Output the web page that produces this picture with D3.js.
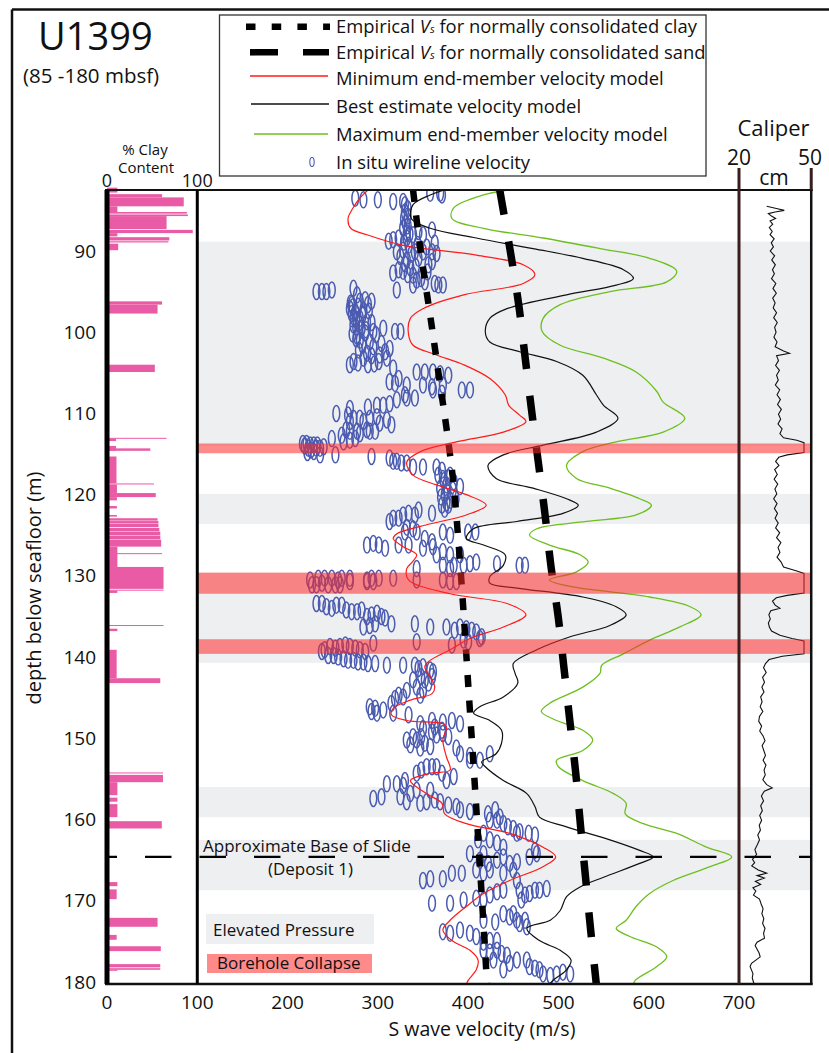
<!DOCTYPE html>
<html>
<head>
<meta charset="utf-8">
<script src="https://cdn.jsdelivr.net/npm/d3@7"></script>
<style>
body { margin: 0; background: #fff; }
svg text { font-family: "Open Sans", sans-serif; fill: #111; }
</style>
</head>
<body>
<svg id="chart" width="829" height="1053"></svg>
<script>
// ---- data (depth in mbsf, velocity in m/s, clay in %, caliper in cm) ----
var depthTicks = [90, 100, 110, 120, 130, 140, 150, 160, 170, 180]
var velocityTicks = [0, 100, 200, 300, 400, 500, 600, 700]

var elevatedPressure = [[88.85, 114.0], [119.9, 123.6], [129.6, 140.7], [156.0, 159.7], [162.5, 168.7]]
var boreholeCollapse = [[113.7, 114.9], [129.6, 132.2], [137.8, 139.6]]
var slideBase = 164.6

// [top depth, bottom depth, % clay]
var clayContent = [
    [82.2, 82.8, 11.5], [83.0, 83.4, 61], [83.4, 84.5, 85], [84.5, 85.2, 11.5], [85.2, 85.4, 88.5],
    [85.5, 85.7, 89.6], [85.7, 87.3, 66], [87.4, 87.8, 95], [87.8, 88.2, 11.5], [88.3, 88.7, 69],
    [88.8, 88.95, 68], [89.1, 89.9, 12.4], [96.2, 96.6, 61], [96.6, 97.7, 56], [104.0, 104.9, 53],
    [113.0, 113.08, 66], [113.1, 113.4, 10], [114.0, 114.6, 10], [114.3, 114.6, 48], [115.3, 118.6, 10.5],
    [118.62, 118.72, 52], [118.75, 119.8, 11], [119.8, 120.3, 54], [120.3, 120.7, 11], [121.4, 121.7, 11],
    [122.5, 122.7, 11], [122.9, 123.2, 56], [123.25, 123.55, 57], [123.6, 124.0, 57], [124.1, 124.5, 58],
    [124.55, 125.0, 59], [125.05, 125.5, 59], [125.55, 126.4, 60], [126.4, 128.9, 11.5], [127.2, 127.28, 61],
    [128.9, 131.6, 62.6], [131.7, 131.8, 62.6], [131.8, 132.1, 11.5], [136.05, 136.15, 62.6], [136.5, 136.8, 11.5],
    [139.1, 142.6, 10.7], [142.6, 143.2, 59], [154.2, 154.3, 62], [154.5, 155.4, 62], [155.4, 157.0, 11.5],
    [157.3, 157.8, 11.5], [158.1, 159.7, 11.5], [160.2, 161.1, 60.7], [167.7, 168.2, 11.5], [168.6, 169.8, 10.7],
    [172.1, 173.2, 56], [174.2, 174.8, 10.7], [175.6, 176.2, 59.6], [177.8, 178.2, 59], [178.3, 178.5, 59],
    [178.5, 178.6, 11.5]
]

// [depth, velocity]
var clayEmpirical = [[82.5, 339], [89.7, 347], [99.1, 359.5], [105.7, 368], [111.8, 376], [118.4, 383.5],
    [125.4, 389], [134.6, 395], [144.1, 400.5], [156.8, 408], [167.5, 414], [180.3, 421]]
var sandEmpirical = [[82.5, 435], [90.5, 447.4], [96.6, 456], [103, 463], [109.4, 470], [115.9, 477.6],
    [122.3, 485], [128.7, 491.6], [135, 499.7], [141.2, 506], [147.8, 512.6], [154.1, 519], [160.7, 524.4],
    [167.1, 530], [173.4, 535.5], [180.3, 542]]

var minModel = [[82.4, 290], [83.5, 280], [84.8, 272], [86.0, 267], [87.2, 270], [88.0, 288], [89.3, 328],
    [90.5, 409], [91.7, 461], [92.9, 474], [94.0, 461], [95.4, 395], [97.1, 350], [98.3, 336], [100.3, 334],
    [101.6, 339], [102.8, 365], [104.0, 395], [105.7, 424], [107.7, 441], [109.0, 445], [110.2, 457],
    [111.0, 464], [112.3, 439], [113.5, 387], [114.7, 347], [116.0, 332], [117.6, 339], [118.8, 365],
    [120.0, 398], [121.3, 420], [122.5, 398], [123.7, 354], [124.8, 321], [125.4, 317], [126.4, 328],
    [127.4, 343], [128.3, 338], [129.1, 332], [130.5, 334], [132.2, 380], [133.4, 443], [134.8, 464],
    [136.3, 439], [137.7, 402], [139.1, 380], [140.4, 358], [141.2, 352], [142.8, 360], [143.7, 363],
    [144.5, 360], [145.3, 336], [146.3, 317], [147.1, 315], [147.8, 332], [148.2, 372], [148.6, 376],
    [150.2, 372], [152.3, 376], [153.9, 380], [154.3, 358], [155.2, 336], [156.8, 354], [158.0, 371],
    [159.3, 374], [160.5, 398], [161.7, 446], [163.4, 483], [164.6, 497], [165.8, 483], [167.5, 446],
    [169.1, 417], [170.7, 398], [172.4, 380], [173.6, 372], [174.9, 382], [176.1, 402], [177.3, 411],
    [178.5, 409], [179.8, 400], [180.3, 398]]

var bestModel = [[82.4, 376], [83.1, 358], [84.3, 339], [86.0, 337], [87.2, 358], [88.4, 409], [89.7, 472],
    [90.9, 527], [92.3, 572], [93.4, 583], [94.2, 564], [95.4, 509], [97.1, 443], [98.3, 424], [99.9, 419],
    [101.2, 424], [102.4, 457], [103.6, 498], [105.3, 527], [107.7, 542], [109.0, 550], [110.6, 566],
    [112.3, 542], [113.9, 483], [115.1, 439], [116.4, 422], [118.0, 431], [119.2, 472], [120.5, 509],
    [121.3, 522], [122.3, 505], [123.3, 454], [124.2, 406], [125.4, 398], [126.2, 417], [127.4, 441],
    [128.7, 439], [130.1, 424], [130.9, 424], [131.5, 454], [132.6, 527], [133.8, 564], [134.8, 575],
    [136.1, 557], [137.5, 513], [139.1, 476], [140.8, 450], [142.0, 452], [143.2, 455], [144.9, 439],
    [146.1, 413], [146.9, 406], [147.8, 424], [149.0, 437], [150.6, 437], [151.9, 431], [152.9, 415],
    [153.5, 419], [155.2, 439], [156.8, 465], [158.4, 474], [159.7, 479], [160.9, 509], [162.5, 557],
    [163.8, 590], [164.6, 605], [165.4, 590], [167.1, 550], [168.3, 524], [169.5, 509], [171.2, 502],
    [172.4, 491], [173.4, 465], [174.9, 479], [176.1, 502], [177.3, 514], [178.5, 509], [179.8, 494], [180.3, 490]]

var maxModel = [[82.4, 450], [83.1, 417], [84.7, 384], [86.0, 382], [87.2, 417], [88.4, 483], [89.7, 546],
    [90.9, 601], [92.5, 631], [93.8, 620], [95.0, 557], [96.6, 502], [98.3, 483], [99.9, 482], [101.6, 502],
    [103.2, 550], [104.9, 586], [107.3, 609], [108.6, 616], [110.6, 640], [112.3, 616], [113.5, 564],
    [114.7, 527], [116.4, 509], [118.0, 520], [119.2, 557], [120.5, 590], [121.3, 603], [122.5, 586],
    [123.3, 531], [124.2, 476], [125.0, 468], [126.2, 490], [127.4, 524], [128.3, 533], [129.5, 520],
    [130.5, 490], [131.3, 513], [132.6, 601], [133.8, 646], [134.8, 658], [136.3, 634], [137.9, 601],
    [139.6, 572], [141.0, 548], [142.0, 546], [143.7, 527], [145.7, 490], [146.7, 481], [147.8, 498],
    [149.0, 527], [150.2, 538], [151.5, 527], [152.7, 498], [153.5, 500], [155.2, 527], [156.8, 561],
    [158.0, 575], [159.3, 574], [160.5, 594], [161.7, 631], [163.4, 664], [164.6, 692], [165.8, 668],
    [167.5, 627], [169.1, 601], [170.7, 586], [172.4, 575], [173.4, 564], [174.4, 579], [175.7, 609],
    [176.9, 620], [178.1, 609], [179.8, 585], [180.3, 583]]

var wireline = [
    [83.5, 275], [83.7, 284], [83.7, 300], [83.9, 317], [83.9, 328], [82.9, 358], [82.9, 369], [83.1, 371],
    [84.3, 330], [85.2, 330], [86.0, 329], [86.6, 331], [87.2, 328], [87.8, 332], [88.8, 312], [88.6, 317],
    [88.4, 323], [88.4, 332], [88.0, 339], [87.6, 345], [88.0, 350], [87.4, 360], [89.0, 363], [89.5, 354],
    [90.1, 321], [89.9, 328], [90.1, 341], [90.1, 350], [90.1, 360], [90.3, 365], [91.1, 332], [90.9, 345],
    [91.3, 360], [92.7, 317], [92.3, 323], [92.5, 328], [92.1, 336], [93.0, 339], [93.6, 343], [93.8, 352],
    [94.0, 363], [94.2, 372], [94.2, 367], [94.8, 321], [94.2, 339], [95.0, 232], [95.0, 238], [95.0, 243],
    [94.8, 249], [94.6, 273], [95.4, 277], [96.6, 271], [97.1, 269], [97.5, 275], [96.2, 280], [96.0, 286],
    [97.3, 284], [96.6, 289], [96.2, 293], [98.1, 273], [98.3, 280], [98.7, 288], [99.1, 273], [99.5, 282],
    [100.5, 277], [101.0, 280], [100.1, 286], [99.9, 295], [99.5, 306], [99.9, 319], [99.9, 325], [101.2, 291],
    [101.4, 304], [104.0, 269], [103.6, 273], [103.8, 278], [103.2, 284], [104.0, 289], [102.8, 302], [102.4, 308],
    [103.2, 310], [103.6, 301], [102.0, 313], [104.4, 317], [106.1, 313], [106.3, 319], [105.7, 323], [106.5, 332],
    [104.9, 343], [104.9, 352], [104.9, 361], [105.1, 369], [105.3, 378], [106.5, 350], [106.7, 360], [106.5, 372],
    [107.1, 393], [107.1, 402], [107.1, 361], [107.5, 371], [108.1, 341], [108.1, 332], [108.3, 321], [108.8, 313],
    [109.0, 306], [109.0, 299], [109.2, 289], [107.7, 330], [110.0, 254], [109.4, 269], [110.2, 267], [110.6, 273],
    [111.0, 269], [110.6, 280], [111.0, 284], [110.6, 291], [110.4, 299], [111.2, 302], [110.8, 310], [111.4, 315],
    [113.1, 249], [112.7, 260], [112.0, 265], [112.2, 269], [112.2, 277], [113.1, 275], [112.5, 280], [112.0, 288],
    [112.2, 291], [112.2, 297], [113.3, 269], [113.5, 262], [113.7, 217], [113.7, 221], [113.9, 225], [113.9, 229],
    [114.3, 232], [114.3, 223], [114.7, 229], [115.1, 236], [115.1, 253], [115.3, 293], [114.3, 236], [115.5, 313],
    [115.9, 317], [115.9, 321], [116.1, 326], [116.1, 332], [116.6, 339], [116.6, 350], [116.6, 365], [117.0, 371],
    [117.6, 367], [118.0, 372], [117.6, 380], [118.8, 376], [119.2, 369], [120.0, 374], [120.7, 380], [121.3, 371],
    [121.3, 378], [119.0, 391], [118.4, 384], [123.3, 313], [122.9, 317], [122.9, 323], [122.5, 328], [122.3, 334],
    [122.5, 341], [121.9, 345], [122.3, 360], [124.0, 332], [124.2, 339], [124.6, 343], [124.6, 330], [124.6, 372],
    [125.0, 380], [124.6, 400], [124.6, 408], [126.2, 288], [126.0, 295], [126.2, 301], [126.6, 308], [126.2, 323],
    [126.2, 334], [125.4, 352], [125.8, 360], [126.6, 350], [126.4, 361], [127.4, 365], [127.0, 372], [127.4, 380],
    [127.4, 391], [128.7, 372], [128.7, 384], [128.7, 395], [128.5, 402], [128.3, 409], [128.5, 432], [128.7, 457],
    [128.7, 463], [129.1, 343], [129.1, 380], [130.5, 225], [130.3, 234], [130.3, 241], [130.3, 249], [130.5, 256],
    [130.3, 260], [130.3, 269], [130.5, 288], [130.3, 293], [130.3, 301], [130.3, 317], [130.5, 343], [130.5, 372],
    [130.7, 380], [130.7, 387],
    // denser clusters
    [96.4, 270], [96.9, 272], [97.7, 271], [98.4, 276], [96.8, 278], [97.9, 283], [98.9, 279], [97.4, 290],
    [99.4, 276], [100.2, 272], [100.8, 276], [101.6, 283], [102.2, 279], [99.7, 287], [98.8, 293], [102.6, 288],
    [101.8, 295], [100.3, 298], [102.9, 293], [103.9, 296], [90.7, 325], [91.6, 330], [92.9, 333], [91.9, 342],
    [90.4, 337], [89.2, 344], [93.4, 348], [92.6, 355], [91.7, 356], [89.3, 334], [88.9, 329], [87.9, 335],
    [86.9, 333], [85.7, 333], [84.8, 333], [118.3, 373], [119.6, 377], [120.3, 370], [121.0, 376], [119.4, 383],
    [120.5, 386], [117.9, 378], [121.8, 374], [114.0, 219], [114.5, 226], [113.9, 233], [114.8, 222], [114.1, 240],
    [131.1, 227], [131.1, 232], [130.9, 238], [131.1, 245], [131.1, 253], [131.1, 258], [130.7, 269], [130.7, 288],
    [130.7, 295], [133.4, 232], [133.4, 238], [133.8, 243], [134.0, 249], [133.6, 254], [133.6, 260], [134.2, 265],
    [134.4, 271], [134.4, 277], [134.2, 282], [135.0, 288], [134.8, 293], [134.6, 299], [135.0, 304], [135.2, 308],
    [135.9, 315], [136.3, 284], [136.1, 291], [135.9, 297], [135.9, 341], [136.3, 358], [136.3, 376], [136.7, 385],
    [136.3, 391], [136.5, 398], [136.7, 404], [136.9, 409], [137.5, 415], [138.1, 343], [139.3, 238], [139.1, 241],
    [138.7, 247], [138.9, 253], [138.7, 258], [138.5, 264], [138.7, 269], [138.9, 275], [139.1, 280], [139.3, 286],
    [138.3, 295], [138.5, 382], [137.9, 395], [138.1, 400], [137.7, 413], [139.8, 245], [139.8, 251], [140.0, 256],
    [140.2, 262], [140.4, 267], [140.4, 273], [140.6, 278], [140.6, 284], [140.8, 289], [140.8, 297], [141.0, 310],
    [141.0, 328], [141.0, 341], [141.4, 345], [141.2, 350], [141.6, 358], [141.8, 361], [142.8, 339], [143.7, 343],
    [142.4, 348], [142.8, 352], [143.2, 356], [142.4, 360], [144.1, 350], [144.7, 347], [146.1, 291], [146.7, 293],
    [146.3, 297], [146.9, 299], [146.5, 306], [145.7, 315], [145.1, 319], [144.7, 323], [144.9, 328], [144.1, 332],
    [146.9, 317], [147.1, 334], [148.2, 347], [147.8, 360], [148.0, 372], [147.8, 382], [148.2, 391], [148.8, 350],
    [148.6, 363], [149.0, 371], [150.2, 332], [150.8, 336], [149.8, 339], [150.2, 343], [149.8, 348], [150.6, 352],
    [149.2, 360], [149.6, 365], [149.4, 372], [149.8, 378], [151.2, 347], [151.0, 358], [151.2, 387], [151.9, 391],
    [152.1, 402], [151.9, 424], [152.7, 402], [152.7, 413], [155.6, 310], [155.6, 321], [155.8, 328], [155.2, 330],
    [154.3, 343], [153.9, 348], [153.5, 354], [153.5, 360], [153.5, 365], [154.3, 371], [155.2, 376], [154.7, 384],
    [156.8, 336], [156.4, 343], [156.4, 358], [157.4, 295], [157.2, 304], [157.2, 325], [157.8, 332], [158.0, 347],
    [157.8, 354], [157.6, 363], [157.8, 369], [158.2, 378], [158.4, 387], [158.8, 391], [159.0, 402], [159.3, 422],
    [158.8, 430], [159.7, 435], [160.1, 424], [160.1, 432], [160.5, 439], [160.9, 444], [161.1, 450], [161.7, 454],
    [161.5, 457], [161.7, 417], [162.5, 424], [162.9, 432], [163.4, 439], [161.7, 467], [161.9, 474], [162.5, 411],
    [164.2, 402], [165.0, 413], [164.2, 417], [165.4, 422], [165.0, 432], [164.6, 439], [165.4, 446], [165.2, 454],
    [164.6, 468], [164.2, 476], [163.8, 474], [166.2, 409], [166.6, 417], [166.2, 424], [166.6, 439], [166.2, 450],
    [167.5, 350], [167.3, 358], [167.3, 372], [166.6, 382], [166.6, 393], [167.5, 454], [170.3, 360], [170.3, 380],
    [169.9, 395], [169.7, 409], [169.9, 417], [169.3, 424], [168.9, 432], [168.7, 439], [168.7, 457], [169.3, 463],
    [169.1, 468], [168.7, 474], [168.7, 479], [168.5, 487], [169.9, 459], [171.6, 439], [172.0, 446], [171.6, 450],
    [172.4, 454], [172.8, 457], [172.4, 463], [173.2, 465], [172.6, 430], [172.4, 417], [173.8, 372], [174.0, 380],
    [173.6, 391], [174.0, 402], [174.4, 409], [175.1, 417], [174.9, 424], [174.9, 432], [176.1, 417], [176.3, 424],
    [176.1, 432], [176.5, 437], [176.7, 443], [177.3, 454], [177.3, 465], [178.1, 468], [178.3, 474], [178.5, 479],
    [179.0, 483], [179.0, 498], [178.8, 505], [179.0, 513], [179.2, 491], [178.5, 439], [177.7, 446], [177.3, 428]
]

// [depth, caliper cm]
var caliper = [[84.5, 31.5], [84.8, 36], [85.0, 38.8], [85.2, 35], [85.4, 32.2], [85.7, 33.5], [86.0, 35.2],
    [86.3, 32.9], [86.7, 34.0], [87.1, 32.6], [87.6, 33.8], [88.0, 32.9], [88.5, 34.6], [89.0, 33.4], [89.5, 34.3],
    [90.0, 33.0], [90.6, 34.8], [91.1, 33.6], [91.7, 35.1], [92.3, 33.9], [92.8, 34.7], [93.4, 33.5], [94.0, 35.3],
    [94.6, 34.1], [95.2, 35.5], [95.8, 34.0], [96.4, 35.0], [97.0, 34.2], [97.6, 35.6], [98.2, 34.4], [98.8, 35.9],
    [99.4, 34.8], [100.0, 35.4], [100.6, 34.5], [101.2, 35.8], [101.8, 35.0], [102.3, 38.5], [102.6, 41.0],
    [102.9, 35.6], [103.5, 36.4], [104.1, 35.2], [104.7, 36.8], [105.3, 35.6], [105.9, 36.3], [106.5, 35.1],
    [107.1, 36.9], [107.7, 35.8], [108.3, 37.2], [108.9, 36.0], [109.5, 37.6], [110.1, 36.4], [110.7, 37.3],
    [111.3, 36.2], [111.9, 37.9], [112.5, 37.0], [113.0, 38.5], [113.3, 44.0], [113.6, 47.0], [114.8, 47.0],
    [115.1, 40.0], [115.4, 36.5], [115.9, 35.2], [116.4, 36.6], [116.9, 34.8], [117.5, 35.9], [118.1, 34.6],
    [118.7, 36.1], [119.3, 34.9], [119.9, 35.7], [120.5, 34.4], [121.1, 35.8], [121.7, 34.7], [122.3, 36.0],
    [122.9, 35.0], [123.5, 36.3], [124.1, 35.2], [124.7, 36.9], [125.3, 35.6], [125.9, 37.4], [126.5, 36.2],
    [127.1, 37.0], [127.7, 35.8], [128.3, 37.5], [128.9, 38.5], [129.4, 44.0], [129.7, 47.0], [132.1, 47.0],
    [132.4, 40.0], [132.7, 35.5], [133.1, 33.9], [133.6, 35.0], [134.0, 37.0], [134.3, 33.2], [134.8, 32.4],
    [135.3, 33.0], [135.8, 32.2], [136.3, 32.6], [136.8, 33.5], [137.3, 37.0], [137.7, 42.0], [138.0, 47.0],
    [139.6, 47.0], [139.9, 38.0], [140.3, 32.5], [140.8, 31.0], [141.3, 30.2], [141.9, 31.3], [142.5, 29.8],
    [143.1, 30.6], [143.7, 29.5], [144.3, 30.4], [144.9, 29.0], [145.5, 29.6], [146.1, 28.8], [146.7, 29.9],
    [147.3, 28.5], [147.9, 28.2], [148.5, 29.4], [149.1, 28.6], [149.7, 30.0], [150.3, 30.8], [150.9, 29.6],
    [151.5, 30.3], [152.1, 31.0], [152.7, 30.0], [153.3, 31.2], [153.9, 30.4], [154.5, 30.9], [155.1, 29.9],
    [155.7, 31.5], [156.1, 33.8], [156.5, 30.5], [157.1, 29.3], [157.7, 30.2], [158.3, 29.0], [158.9, 29.7],
    [159.5, 28.6], [160.1, 29.4], [160.7, 28.4], [161.3, 28.9], [161.9, 27.8], [162.5, 28.5], [163.1, 27.6],
    [163.7, 26.6], [164.3, 27.3], [164.9, 25.6], [165.3, 26.5], [165.7, 25.3], [166.2, 28.0], [166.6, 31.5],
    [166.9, 27.5], [167.2, 30.5], [167.6, 26.8], [168.0, 29.0], [168.4, 25.8], [168.8, 27.0], [169.3, 26.0],
    [169.8, 28.5], [170.4, 29.2], [171.0, 30.0], [171.6, 29.5], [172.2, 30.3], [172.8, 29.8], [173.4, 30.8],
    [174.0, 30.2], [174.6, 30.6], [175.1, 27.5], [175.5, 26.7], [175.9, 27.4], [176.4, 28.3], [176.9, 28.8],
    [177.3, 27.0], [177.7, 25.2], [178.1, 24.6], [178.6, 25.3], [179.0, 25.8], [179.5, 25.5], [180.0, 26.0],
    [180.2, 26.2]]

// ---- drawing ----
var svg = d3.select('#chart')
var x = d3.scaleLinear().domain([0, 700]).range([107, 739])
var y = d3.scaleLinear().domain([90, 180]).range([251, 982])
var xc = d3.scaleLinear().domain([20, 50]).range([x(700), x(780)])

var plotTop = y(82.5), plotBottom = y(180.25), plotRight = x(780)

svg.append('defs').append('clipPath').attr('id', 'plot-clip')
  .append('rect')
    .attr('x', x(0)).attr('y', plotTop)
    .attr('width', plotRight - x(0)).attr('height', plotBottom - plotTop)

// outer frame
svg.append('line').attr('x1', 12).attr('x2', 829).attr('y1', 9.5).attr('y2', 9.5)
    .attr('stroke', '#111').attr('stroke-width', 2.5)
svg.append('line').attr('x1', 12).attr('x2', 12).attr('y1', 9.5).attr('y2', 1053)
    .attr('stroke', '#111').attr('stroke-width', 2.5)

// elevated pressure bands
svg.append('g').selectAll('rect').data(elevatedPressure).join('rect')
    .attr('x', x(100)).attr('width', plotRight - x(100))
    .attr('y', d => y(d[0])).attr('height', d => y(d[1]) - y(d[0]))
    .attr('fill', '#eeeff1')

// clay content bars
svg.append('g').selectAll('rect').data(clayContent).join('rect')
    .attr('x', x(0)).attr('width', d => x(d[2]) - x(0))
    .attr('y', d => y(d[0])).attr('height', d => Math.max(1, y(d[1]) - y(d[0])))
    .attr('fill', '#ea5ba6')

var plot = svg.append('g').attr('clip-path', 'url(#plot-clip)')

// in situ wireline velocity
plot.append('g').selectAll('ellipse').data(wireline).join('ellipse')
    .attr('cx', d => x(d[1])).attr('cy', d => y(d[0]))
    .attr('rx', 3.4).attr('ry', 8)
    .attr('fill', 'none').attr('stroke', '#4a5bb0').attr('stroke-width', 1.5)

var line = d3.line()
    .x(d => x(d[1]))
    .y(d => y(d[0]))
    .curve(d3.curveCatmullRom.alpha(0.5))

plot.append('path').datum(minModel).attr('d', line)
    .attr('fill', 'none').attr('stroke', '#ff1a1a').attr('stroke-width', 1.2)
plot.append('path').datum(bestModel).attr('d', line)
    .attr('fill', 'none').attr('stroke', '#111').attr('stroke-width', 1.2)
plot.append('path').datum(maxModel).attr('d', line)
    .attr('fill', 'none').attr('stroke', '#6cbf1e').attr('stroke-width', 1.3)

plot.append('path').datum(clayEmpirical).attr('d', line)
    .attr('fill', 'none').attr('stroke', '#000').attr('stroke-width', 6.5)
    .attr('stroke-dasharray', '12,13.7')
plot.append('path').datum(sandEmpirical).attr('d', line)
    .attr('fill', 'none').attr('stroke', '#000').attr('stroke-width', 7.5)
    .attr('stroke-dasharray', '25,27')

// caliper
plot.append('path').datum(caliper)
    .attr('d', d3.line().x(d => xc(d[1])).y(d => y(d[0])))
    .attr('fill', 'none').attr('stroke', '#111').attr('stroke-width', 1.1)

// borehole collapse bands
svg.append('g').selectAll('rect').data(boreholeCollapse).join('rect')
    .attr('x', x(100)).attr('width', plotRight - x(100))
    .attr('y', d => y(d[0])).attr('height', d => y(d[1]) - y(d[0]))
    .attr('fill', '#ff2a2a').attr('opacity', 0.55)

// panel borders
svg.append('line').attr('x1', x(0) - 2).attr('x2', plotRight + 1.5).attr('y1', plotTop).attr('y2', plotTop)
    .attr('stroke', '#111').attr('stroke-width', 2)
svg.append('line').attr('x1', x(0) - 2).attr('x2', plotRight + 1.5).attr('y1', plotBottom).attr('y2', plotBottom)
    .attr('stroke', '#111').attr('stroke-width', 2.5)
svg.append('line').attr('x1', x(0)).attr('x2', x(0)).attr('y1', plotTop).attr('y2', plotBottom)
    .attr('stroke', '#000').attr('stroke-width', 5)
svg.append('line').attr('x1', x(100)).attr('x2', x(100)).attr('y1', plotTop).attr('y2', plotBottom)
    .attr('stroke', '#000').attr('stroke-width', 3)
svg.append('line').attr('x1', plotRight).attr('x2', plotRight).attr('y1', plotTop).attr('y2', plotBottom)
    .attr('stroke', '#111').attr('stroke-width', 2.5)
svg.append('line').attr('x1', plotRight).attr('x2', plotRight).attr('y1', 168).attr('y2', plotTop)
    .attr('stroke', '#3a1e1e').attr('stroke-width', 3)
svg.append('line').attr('x1', xc(20)).attr('x2', xc(20)).attr('y1', 168).attr('y2', plotBottom)
    .attr('stroke', '#3a1e1e').attr('stroke-width', 3)

// approximate base of slide
svg.append('line')
    .attr('x1', x(0)).attr('x2', plotRight).attr('y1', y(slideBase)).attr('y2', y(slideBase))
    .attr('stroke', '#000').attr('stroke-width', 2.3)
    .attr('stroke-dasharray', '26.5,28').attr('stroke-dashoffset', 16.5)
svg.append('text').attr('x', 203).attr('y', 852).style('font-size', '17px')
    .text('Approximate Base of Slide')
svg.append('text').attr('x', 310.5).attr('y', 875).attr('text-anchor', 'middle').style('font-size', '17px')
    .text('(Deposit 1)')

// in-plot key
svg.append('rect').attr('x', 206).attr('y', 914).attr('width', 168).attr('height', 30).attr('fill', '#eeeff1')
svg.append('text').attr('x', 213).attr('y', 936).style('font-size', '17px').text('Elevated Pressure')
svg.append('rect').attr('x', 207).attr('y', 954).attr('width', 165).attr('height', 19).attr('fill', '#ff8a8a')
svg.append('text').attr('x', 217).attr('y', 969).style('font-size', '17px').text('Borehole Collapse')

// axes labels
svg.append('g').selectAll('text').data(depthTicks).join('text')
    .attr('x', 96).attr('y', d => y(d) + 6.5)
    .attr('text-anchor', 'end').style('font-size', '19px')
    .text(d => d)
svg.append('g').selectAll('text').data(velocityTicks).join('text')
    .attr('x', d => x(d)).attr('y', 1009)
    .attr('text-anchor', 'middle').style('font-size', '19px')
    .text(d => d)
svg.append('text').attr('x', 482).attr('y', 1036).attr('text-anchor', 'middle').style('font-size', '19.5px')
    .text('S wave velocity (m/s)')
svg.append('text').attr('transform', 'translate(41,588) rotate(-90)').attr('text-anchor', 'middle')
    .style('font-size', '20px').text('depth below seafloor (m)')

// clay panel header
svg.append('text').attr('x', x(0)).attr('y', 187).attr('text-anchor', 'middle').style('font-size', '18px').text('0')
svg.append('text').attr('x', x(100)).attr('y', 187).attr('text-anchor', 'middle').style('font-size', '18px').text('100')
svg.append('text').attr('x', 145).attr('y', 155).attr('text-anchor', 'middle').style('font-size', '15px').text('% Clay')
svg.append('text').attr('x', 146).attr('y', 173).attr('text-anchor', 'middle').style('font-size', '15px').text('Content')

// caliper header
svg.append('text').attr('x', 773.5).attr('y', 136).attr('text-anchor', 'middle').style('font-size', '22px').text('Caliper')
svg.append('text').attr('x', xc(20)).attr('y', 165).attr('text-anchor', 'middle').style('font-size', '21px').text('20')
svg.append('text').attr('x', 810).attr('y', 165).attr('text-anchor', 'middle').style('font-size', '21px').text('50')
svg.append('text').attr('x', 774).attr('y', 185).attr('text-anchor', 'middle').style('font-size', '21px').text('cm')

// title
svg.append('text').attr('x', 38).attr('y', 50).style('font-size', '38px').text('U1399')
svg.append('text').attr('x', 23).attr('y', 83).style('font-size', '20.5px').text('(85 -180 mbsf)')

// legend
var legend = svg.append('g')
legend.append('rect').attr('x', 219.5).attr('y', 15).attr('width', 486.5).attr('height', 161)
    .attr('fill', '#fff').attr('stroke', '#333').attr('stroke-width', 1.3)
legend.append('line').attr('x1', 246).attr('x2', 330).attr('y1', 26.7).attr('y2', 26.7)
    .attr('stroke', '#000').attr('stroke-width', 6.5).attr('stroke-dasharray', '9.5,16.2')
legend.append('line').attr('x1', 250).attr('x2', 329).attr('y1', 52.3).attr('y2', 52.3)
    .attr('stroke', '#000').attr('stroke-width', 6.5).attr('stroke-dasharray', '28,25')
legend.append('line').attr('x1', 250).attr('x2', 328).attr('y1', 76).attr('y2', 76)
    .attr('stroke', '#ff1a1a').attr('stroke-width', 1.3)
legend.append('line').attr('x1', 251).attr('x2', 329).attr('y1', 104).attr('y2', 104)
    .attr('stroke', '#111').attr('stroke-width', 1.3)
legend.append('line').attr('x1', 254).attr('x2', 328).attr('y1', 134).attr('y2', 134)
    .attr('stroke', '#6cbf1e').attr('stroke-width', 1.3)
legend.append('ellipse').attr('cx', 312).attr('cy', 162).attr('rx', 2.2).attr('ry', 4.5)
    .attr('fill', 'none').attr('stroke', '#4a5bb0').attr('stroke-width', 1.1)

function empiricalLabel(yPos, material) {
    var t = legend.append('text').attr('x', 336).attr('y', yPos).style('font-size', '18.4px')
    t.append('tspan').text('Empirical ')
    t.append('tspan').style('font-style', 'italic').text('V')
    t.append('tspan').style('font-style', 'italic').style('font-size', '11px').text('s')
    t.append('tspan').text(' for normally consolidated ' + material)
}
empiricalLabel(33.3, 'clay')
empiricalLabel(59.3, 'sand')
var legendLabels = [['Minimum end-member velocity model', 85], ['Best estimate velocity model', 112.7],
    ['Maximum end-member velocity model', 141], ['In situ wireline velocity', 169]]
legend.selectAll('text.row').data(legendLabels).join('text')
    .attr('class', 'row')
    .attr('x', 336).attr('y', d => d[1]).style('font-size', '18.4px')
    .text(d => d[0])
</script>
</body>
</html>
